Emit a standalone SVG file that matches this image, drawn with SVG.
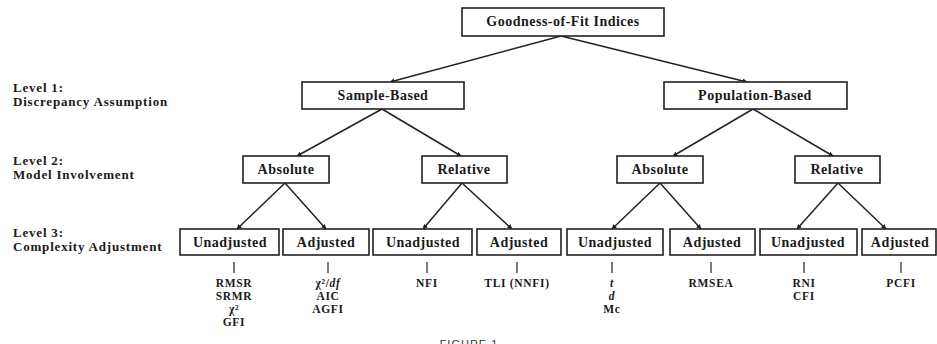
<svg xmlns="http://www.w3.org/2000/svg" width="937" height="344" viewBox="0 0 937 344">
<style>
.box{fill:#fff;stroke:#222;stroke-width:1.6}
.bt{font-family:"Liberation Serif",serif;font-weight:bold;font-size:14px;letter-spacing:0.5px;fill:#1a1a1a;text-anchor:middle}
.lv{font-family:"Liberation Serif",serif;font-weight:bold;font-size:13px;letter-spacing:0.8px;fill:#1a1a1a}
.ix{font-family:"Liberation Serif",serif;font-weight:bold;font-size:11.5px;letter-spacing:0.7px;fill:#1a1a1a;text-anchor:middle}
.c{stroke:#222;stroke-width:1.5;fill:none;marker-end:url(#ah)}
.t{stroke:#222;stroke-width:1.2}
</style>
<defs>
<marker id="ah" viewBox="0 0 10 10" refX="9" refY="5" markerWidth="5" markerHeight="5" orient="auto" markerUnits="userSpaceOnUse">
<path d="M0,0 L10,5 L0,10 z" fill="#222"/>
</marker>
</defs>
<rect width="937" height="344" fill="#fff"/>

<g id="levels">
<text class="lv" x="13" y="92">Level 1:</text>
<text class="lv" x="13" y="106">Discrepancy Assumption</text>
<text class="lv" x="13" y="165">Level 2:</text>
<text class="lv" x="13" y="179">Model Involvement</text>
<text class="lv" x="13" y="237">Level 3:</text>
<text class="lv" x="13" y="251">Complexity Adjustment</text>
</g>

<g id="connectors">
<line class="c" x1="561" y1="36" x2="390" y2="82"/>
<line class="c" x1="561" y1="36" x2="747" y2="82"/>
<line class="c" x1="382" y1="109" x2="297" y2="156"/>
<line class="c" x1="382" y1="109" x2="461" y2="156"/>
<line class="c" x1="753" y1="109" x2="673" y2="156"/>
<line class="c" x1="753" y1="109" x2="833" y2="156"/>
<line class="c" x1="285" y1="183" x2="237" y2="229"/>
<line class="c" x1="285" y1="183" x2="326" y2="229"/>
<line class="c" x1="462" y1="183" x2="423" y2="229"/>
<line class="c" x1="462" y1="183" x2="512" y2="229"/>
<line class="c" x1="660" y1="183" x2="612" y2="229"/>
<line class="c" x1="660" y1="183" x2="701" y2="229"/>
<line class="c" x1="838" y1="183" x2="797" y2="229"/>
<line class="c" x1="838" y1="183" x2="886" y2="229"/>
<line class="t" x1="234" y1="262" x2="234" y2="273"/>
<line class="t" x1="328" y1="262" x2="328" y2="273"/>
<line class="t" x1="427" y1="262" x2="427" y2="273"/>
<line class="t" x1="517" y1="262" x2="517" y2="273"/>
<line class="t" x1="612" y1="262" x2="612" y2="273"/>
<line class="t" x1="711" y1="262" x2="711" y2="273"/>
<line class="t" x1="804" y1="262" x2="804" y2="273"/>
<line class="t" x1="901" y1="262" x2="901" y2="273"/>
</g>

<g id="root"><rect class="box" x="462" y="8" width="202" height="28"/><text class="bt" x="563" y="26">Goodness-of-Fit Indices</text></g>
<g id="sample"><rect class="box" x="302" y="82" width="162" height="27"/><text class="bt" x="383" y="100">Sample-Based</text></g>
<g id="population"><rect class="box" x="664" y="82" width="183" height="27"/><text class="bt" x="755" y="100">Population-Based</text></g>

<g id="s-absolute"><rect class="box" x="243" y="156" width="86" height="27"/><text class="bt" x="286" y="174">Absolute</text></g>
<g id="s-relative"><rect class="box" x="422" y="156" width="85" height="27"/><text class="bt" x="464" y="174">Relative</text></g>
<g id="p-absolute"><rect class="box" x="617" y="156" width="86" height="27"/><text class="bt" x="660" y="174">Absolute</text></g>
<g id="p-relative"><rect class="box" x="795" y="156" width="85" height="27"/><text class="bt" x="837" y="174">Relative</text></g>

<g id="sa-unadj"><rect class="box" x="180" y="229" width="99" height="26"/><text class="bt" x="230" y="247">Unadjusted</text></g>
<g id="sa-adj"><rect class="box" x="283" y="229" width="86" height="26"/><text class="bt" x="326" y="247">Adjusted</text></g>
<g id="sr-unadj"><rect class="box" x="373" y="229" width="99" height="26"/><text class="bt" x="423" y="247">Unadjusted</text></g>
<g id="sr-adj"><rect class="box" x="477" y="229" width="84" height="26"/><text class="bt" x="519" y="247">Adjusted</text></g>
<g id="pa-unadj"><rect class="box" x="567" y="229" width="96" height="26"/><text class="bt" x="615" y="247">Unadjusted</text></g>
<g id="pa-adj"><rect class="box" x="670" y="229" width="85" height="26"/><text class="bt" x="712" y="247">Adjusted</text></g>
<g id="pr-unadj"><rect class="box" x="760" y="229" width="97" height="26"/><text class="bt" x="808" y="247">Unadjusted</text></g>
<g id="pr-adj"><rect class="box" x="862" y="229" width="74" height="26"/><text class="bt" x="900" y="247">Adjusted</text></g>

<g id="indices">
<text class="ix" x="234" y="287">RMSR</text>
<text class="ix" x="234" y="300">SRMR</text>
<text class="ix" x="234" y="313">χ²</text>
<text class="ix" x="234" y="326">GFI</text>
<text class="ix" x="328" y="287">χ²/<tspan font-style="italic">df</tspan></text>
<text class="ix" x="328" y="300">AIC</text>
<text class="ix" x="328" y="313">AGFI</text>
<text class="ix" x="427" y="287">NFI</text>
<text class="ix" x="517" y="287">TLI (NNFI)</text>
<text class="ix" x="612" y="287" font-style="italic">t</text>
<text class="ix" x="612" y="300" font-style="italic">d</text>
<text class="ix" x="612" y="313">Mc</text>
<text class="ix" x="711" y="287">RMSEA</text>
<text class="ix" x="804" y="287">RNI</text>
<text class="ix" x="804" y="300">CFI</text>
<text class="ix" x="901" y="287">PCFI</text>
</g>

<text x="469" y="348" font-family="Liberation Sans, sans-serif" font-size="11" letter-spacing="1" fill="#333" text-anchor="middle">FIGURE 1</text>
</svg>
